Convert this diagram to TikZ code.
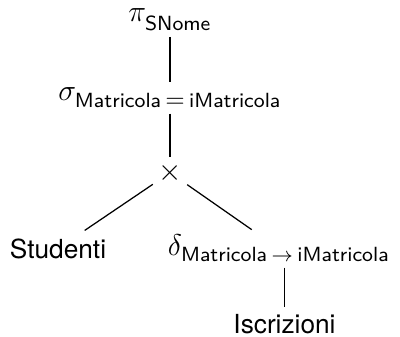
\documentclass[tikz,border=0pt,12pt]{standalone}
\usepackage{fontspec}
\newfontfamily\relfont{TeX Gyre Heros}
% attribute names in subscripts
\newcommand\attr[1]{\hbox{\fontsize{8.2}{10}\selectfont\sffamily #1}}
\newcommand\eqsign{\kern1.7pt\hbox{\fontsize{10}{12}\selectfont$=$}\kern1.7pt}
\newcommand\renames{\kern1.8pt\hbox{\fontsize{8.4}{10}\selectfont$\rightarrow$}\kern1.8pt}
\begin{document}
\begin{tikzpicture}[x=0.4pt,y=-0.4pt,
  op/.style={inner sep=2pt},
  rel/.style={inner sep=3pt,font=\relfont\fontsize{10.5}{12}\selectfont},
  edge/.style={line width=0.5pt}]
\useasboundingbox (0,0) rectangle (400,337);
% operators of the expression tree
\node[op,anchor=base] (p) at (170,22)
  {$\pi_{\lower1.8pt\hbox{$\scriptstyle\attr{SNome}$}}$};
\node[op,anchor=base] (s) at (170,100.5)
  {$\sigma_{\lower1.2pt\hbox{$\scriptstyle\attr{Matricola}\eqsign\attr{iMatricola}$}}$};
\node[op] (x) at (170,172.7) {$\times$};
\node[op,anchor=base] (d) at (279,256)
  {$\delta_{\lower0.6pt\hbox{$\scriptstyle\attr{Matricola}\renames\attr{iMatricola}$}}$};
% base relations
\node[rel] (st) at (58,248.5) {Studenti};
\node[rel] (i) at (284.5,324.5) {Iscrizioni};
% edges
\draw[edge] (p) -- (s);
\draw[edge] (s) -- (x);
\draw[edge] (x) -- (st);
\draw[edge] (x) -- (d);
\draw[edge] (i.north |- d.south) -- (i.north);
\end{tikzpicture}
\end{document}
